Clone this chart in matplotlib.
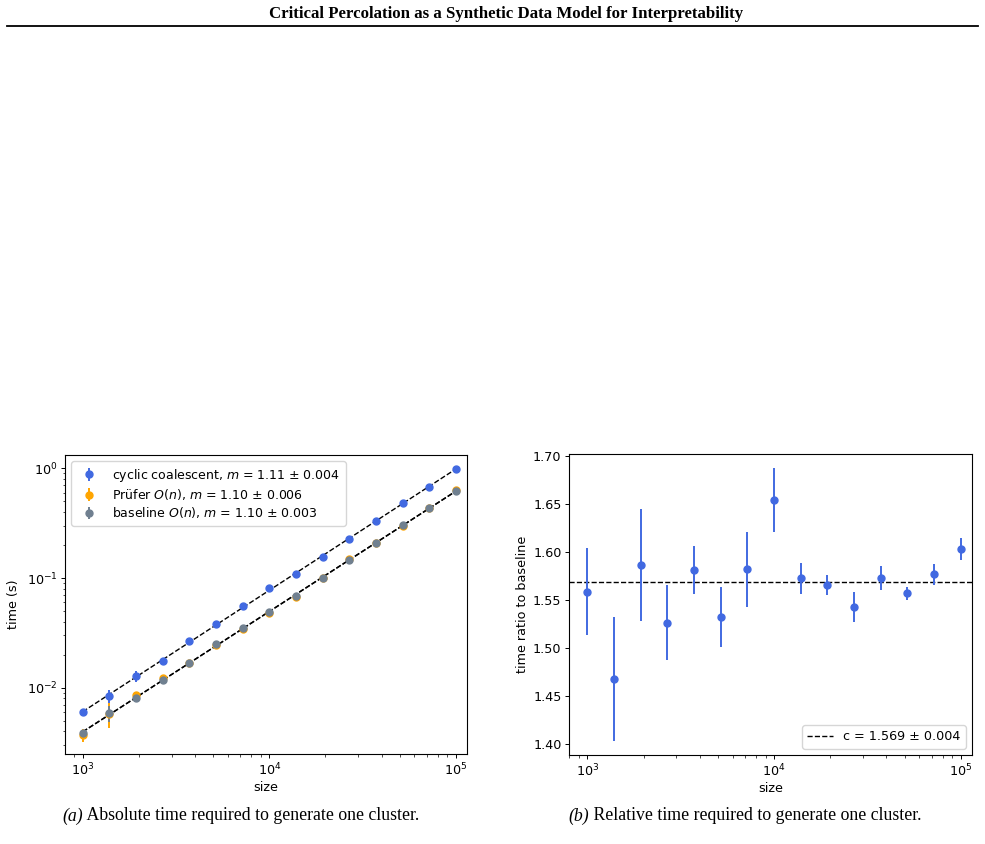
import matplotlib.pyplot as plt
import numpy as np

# system sizes (logspace 1e3..1e5, 15 points)
sizes = [1000, 1389, 1931, 2683, 3728, 5179, 7197, 10000,
         13895, 19307, 26827, 37276, 51795, 71969, 100000]

# absolute generation time (s)
t_cyclic = [0.0060, 0.0084, 0.0128, 0.0175, 0.0265, 0.0383, 0.0552, 0.0805,
            0.109, 0.155, 0.225, 0.329, 0.480, 0.682, 0.985]
t_cyclic_err = [0.0004, 0.0012, 0.0015, 0.0006, 0.0006, 0.0008, 0.0010, 0.0012,
                0.0015, 0.002, 0.003, 0.004, 0.006, 0.008, 0.012]
t_prufer = [0.0037, 0.0058, 0.0085, 0.0122, 0.0168, 0.0245, 0.0345, 0.0480,
            0.067, 0.099, 0.150, 0.207, 0.300, 0.430, 0.630]
t_prufer_err = [0.0005, 0.0015, 0.0006, 0.0009, 0.0005, 0.0006, 0.0008, 0.0009,
                0.001, 0.002, 0.003, 0.004, 0.005, 0.006, 0.010]
t_base = [0.00386, 0.00585, 0.0081, 0.0117, 0.0169, 0.0252, 0.0352, 0.0486,
          0.069, 0.100, 0.147, 0.208, 0.306, 0.431, 0.625]
t_base_err = [0.0002, 0.0010, 0.0004, 0.0004, 0.0005, 0.0012, 0.0009, 0.0008,
              0.001, 0.002, 0.002, 0.003, 0.004, 0.006, 0.009]

# ratio cyclic / baseline
ratio = [1.5587, 1.468, 1.5867, 1.5264, 1.5812, 1.5324, 1.5822, 1.654,
         1.5726, 1.5656, 1.5428, 1.5729, 1.557, 1.5767, 1.603]
ratio_err = [0.045, 0.064, 0.058, 0.039, 0.0246, 0.031, 0.039, 0.033,
             0.016, 0.0105, 0.016, 0.012, 0.007, 0.0107, 0.011]
ratio_c = 1.569

labels = [r"cyclic coalescent, $m$ = 1.11 ± 0.004",
          r"Prüfer $O(n)$, $m$ = 1.10 ± 0.006",
          r"baseline $O(n)$, $m$ = 1.10 ± 0.003"]
colors = ["royalblue", "orange", "slategray"]

plt.rcParams["font.family"] = "DejaVu Sans"
plt.rcParams["font.size"] = 9.2
for ax_name in ("xtick", "ytick"):
    plt.rcParams[f"{ax_name}.major.size"] = 3.0
    plt.rcParams[f"{ax_name}.minor.size"] = 1.8
    plt.rcParams[f"{ax_name}.major.pad"] = 2.4
    plt.rcParams[f"{ax_name}.minor.pad"] = 2.4
    plt.rcParams[f"{ax_name}.major.width"] = 0.7
    plt.rcParams[f"{ax_name}.minor.width"] = 0.5
plt.rcParams["axes.linewidth"] = 0.8

fig = plt.figure(figsize=(9.85, 8.44), dpi=100)
W, H = 985, 844


def axes_px(x0, y0, x1, y1):
    return fig.add_axes([x0 / W, 1 - y1 / H, (x1 - x0) / W, (y1 - y0) / H])


# page header
fig.text(506 / W, 1 - 14 / H, "Critical Percolation as a Synthetic Data Model for Interpretability",
         ha="center", va="center", fontsize=12.1, weight="bold", family="Liberation Serif")
fig.add_artist(plt.Line2D([7 / W, 978 / W], [1 - 25.5 / H, 1 - 25.5 / H], color="black", lw=1.3))

# (a) absolute time
ax1 = axes_px(65, 455, 467, 754)
x = np.array(sizes)
for y, e, c, lab in zip([t_cyclic, t_prufer, t_base], [t_cyclic_err, t_prufer_err, t_base_err], colors, labels):
    ax1.errorbar(x, y, yerr=e, fmt="o", color=c, ms=5, elinewidth=1.4, label=lab, zorder=3)
    m, b = np.polyfit(np.log10(x), np.log10(y), 1)
    ax1.plot(x, 10 ** (b + m * np.log10(x)), "--", color="black", lw=1.0, zorder=2)
ax1.set_xscale("log")
ax1.set_yscale("log")
ax1.set_xlim(10 ** 2.905, 10 ** 5.06)
ax1.set_ylim(10 ** -2.604, 10 ** 0.121)
ax1.set_xlabel("size", labelpad=2)
ax1.set_ylabel("time (s)", labelpad=5)
ax1.legend(loc="upper left", fontsize=9.0, handletextpad=0.8, borderpad=0.45, labelspacing=0.25)

# (b) relative time
ax2 = axes_px(569, 454, 972, 755)
ax2.errorbar(x, ratio, yerr=ratio_err, fmt="o", color="royalblue", ms=5, elinewidth=1.4, zorder=3)
ax2.axhline(ratio_c, ls="--", color="black", lw=1.0, label=r"c = 1.569 ± 0.004")
ax2.set_xscale("log")
ax2.set_xlim(10 ** 2.902, 10 ** 5.06)
ax2.set_ylim(1.389, 1.7018)
ax2.set_yticks([1.40, 1.45, 1.50, 1.55, 1.60, 1.65, 1.70])
ax2.set_xlabel("size", labelpad=2)
ax2.set_ylabel("time ratio to baseline", labelpad=3)
ax2.legend(loc="lower right")

# captions: italic tag followed by upright text, centred as a whole
cap_size = 12.8
for cx, tag, text in [(240, "(a)", " Absolute time required to generate one cluster."),
                      (745, "(b)", " Relative time required to generate one cluster.")]:
    t1 = fig.text(cx / W, 1 - 816 / H, tag + text, ha="center", va="center", fontsize=cap_size,
                  family="Liberation Serif", alpha=0)
    fig.canvas.draw()
    bb = t1.get_window_extent()
    a = fig.text(bb.x0 / W, 1 - 816 / H, tag, ha="left", va="center", fontsize=cap_size,
                 family="Liberation Serif", style="italic")
    fig.canvas.draw()
    ab = a.get_window_extent()
    fig.text(ab.x1 / W, 1 - 816 / H, text, ha="left", va="center", fontsize=cap_size,
             family="Liberation Serif")

fig.savefig("out.png", dpi=100, facecolor="white")
